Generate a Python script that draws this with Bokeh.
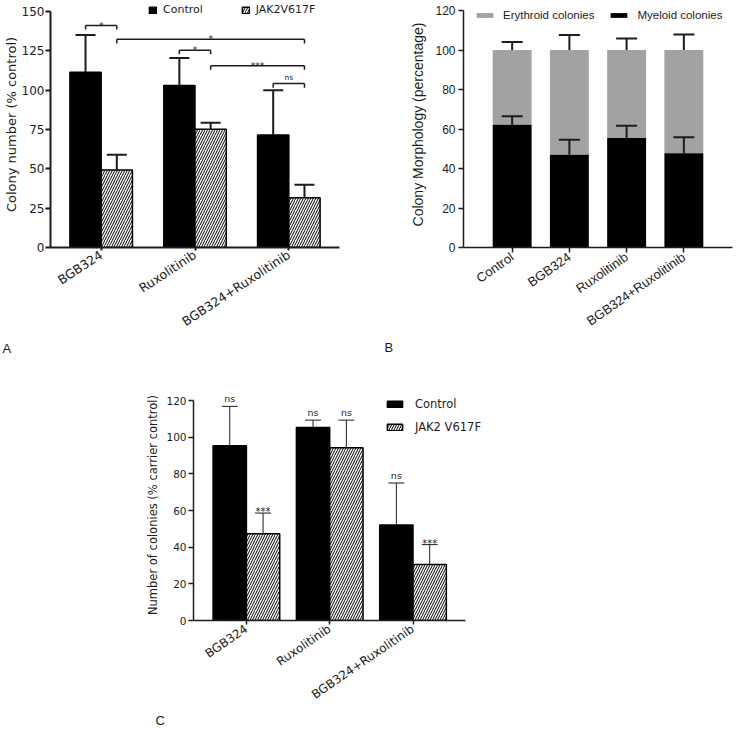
import math
from bokeh.plotting import figure
from bokeh.models import FactorRange, Range1d, Legend, LegendItem, Title, Spacer, FixedTicker
from bokeh.layouts import row, column
from bokeh.core.properties import value
from bokeh.embed import file_html
from bokeh.resources import INLINE

# ---------------- Panel A data ----------------
A_CATS = ["BGB324", "Ruxolitinib", "BGB324+Ruxolitinib"]
A_SERIES = ["Control", "JAK2V617F"]
A_CONTROL = [111.4, 103.0, 71.5]
A_CONTROL_SD = [23.7, 17.4, 28.4]
A_JAK = [49.3, 75.1, 31.7]
A_JAK_SD = [9.6, 4.2, 8.2]
A_YTICKS = [0, 25, 50, 75, 100, 125, 150]
A_SIG_FROM = [("BGB324", "Control"), ("BGB324", "JAK2V617F"), ("Ruxolitinib", "Control"),
              ("Ruxolitinib", "JAK2V617F"), ("BGB324+Ruxolitinib", "Control")]
A_SIG_TO = [("BGB324", "JAK2V617F"), ("BGB324+Ruxolitinib", "JAK2V617F"), ("Ruxolitinib", "JAK2V617F"),
            ("BGB324+Ruxolitinib", "JAK2V617F"), ("BGB324+Ruxolitinib", "JAK2V617F")]
A_SIG_Y = [141.1, 132.3, 125.4, 115.6, 104.2]
A_SIG_TEXT = ["*", "*", "*", "***", "ns"]

# ---------------- Panel B data ----------------
B_CATS = ["Control", "BGB324", "Ruxolitinib", "BGB324+Ruxolitinib"]
B_SERIES = ["Erythroid colonies", "Myeloid colonies"]
B_MYELOID = [62.2, 46.9, 55.5, 47.7]
B_MYELOID_SD = [4.2, 7.7, 6.2, 8.1]
B_ERYTHROID = [37.8, 53.1, 44.5, 52.3]
B_TOTAL_SD = [4.1, 7.6, 5.8, 7.8]
B_YTICKS = [0, 20, 40, 60, 80, 100, 120]

# ---------------- Panel C data ----------------
C_CATS = ["BGB324", "Ruxolitinib", "BGB324+Ruxolitinib"]
C_SERIES = ["Control", "JAK2 V617F"]
C_CONTROL = [95.3, 105.3, 52.1]
C_CONTROL_SD = [21.5, 4.0, 22.9]
C_JAK = [47.3, 94.2, 30.6]
C_JAK_SD = [11.3, 15.1, 10.8]
C_CONTROL_SIG = ["ns", "ns", "ns"]
C_JAK_SIG = ["***", "ns", "***"]
C_YTICKS = [0, 20, 40, 60, 80, 100, 120]

INK = "#1c1c1c"
GRAY = "#a2a2a2"
DV = "DejaVu Sans"
LS = "Liberation Sans"


def mid(cats, a, b):
    p = (cats.index(a[0]) + a[1] + cats.index(b[0]) + b[1]) / 2.0
    i = int(round(p))
    return (cats[i], p - i)


def style(p, font, tick_px, label_px, xlabel_px, angle, axis_w):
    p.outline_line_color = None
    p.xgrid.grid_line_color = None
    p.ygrid.grid_line_color = None
    p.xaxis.major_label_orientation = angle
    for ax in p.axis:
        ax.axis_line_color = INK
        ax.axis_line_width = axis_w
        ax.major_tick_line_color = INK
        ax.major_tick_line_width = axis_w
        ax.minor_tick_line_color = None
        ax.major_tick_in = 0
        ax.major_label_text_font = font
        ax.major_label_text_color = INK
        ax.axis_label_text_font = font
        ax.axis_label_text_font_style = "normal"
        ax.axis_label_text_color = INK
        ax.axis_label_text_font_size = label_px
    p.yaxis.major_label_text_font_size = tick_px
    p.xaxis.major_label_text_font_size = xlabel_px


def errbars(p, xs, vals, sds, width, cap, color=INK):
    tops = [v + s for v, s in zip(vals, sds)]
    p.segment(x0=xs, y0=vals, x1=xs, y1=tops, line_color=color, line_width=width)
    p.scatter(x=xs, y=tops, marker="dash", size=cap, line_color=color, line_width=width)
    return tops


def panel_letter(p, letter, offset):
    p.add_layout(Title(text=letter, align="left", offset=offset, standoff=0,
                       text_font=LS, text_font_size="13px", text_font_style="normal",
                       text_color=INK), "below")


# ================= Panel A =================
OFF_A = {"Control": -1 / 6, "JAK2V617F": 1 / 6}
pA = figure(width=358, height=355,
            x_range=FactorRange(factors=A_CATS, range_padding=0.04, range_padding_units="absolute"),
            y_range=Range1d(0, 156.36), output_backend="svg", toolbar_location=None,
            min_border_left=50, min_border_right=19, min_border_top=1, min_border_bottom=108)
style(pA, DV, "12px", "13px", "12.5px", 0.58, 2)
pA.yaxis.ticker = A_YTICKS
pA.yaxis.bounds = (0, 150)
pA.yaxis.axis_label = "Colony number (% control)"
pA.yaxis.major_tick_out = 5
pA.yaxis.major_label_standoff = 1
pA.yaxis.axis_label_standoff = 0
pA.xaxis.major_tick_out = 3
pA.xaxis.major_label_standoff = 3

xa_c = [(c, OFF_A["Control"]) for c in A_CATS]
xa_j = [(c, OFF_A["JAK2V617F"]) for c in A_CATS]
rA1 = pA.vbar(x=xa_c, top=A_CONTROL, width=1 / 3, fill_color="black", line_color="black", line_width=1.5)
rA2 = pA.vbar(x=xa_j, top=A_JAK, width=1 / 3, fill_color="white", line_color="black", line_width=1.5,
              hatch_pattern="/", hatch_color="black", hatch_scale=5, hatch_weight=1)
errbars(pA, xa_c, A_CONTROL, A_CONTROL_SD, 2, 20)
errbars(pA, xa_j, A_JAK, A_JAK_SD, 2, 20)

bx0 = [(c, OFF_A[s]) for c, s in A_SIG_FROM]
bx1 = [(c, OFF_A[s]) for c, s in A_SIG_TO]
low = [y - 2.6 for y in A_SIG_Y]
pA.segment(x0=bx0, y0=A_SIG_Y, x1=bx1, y1=A_SIG_Y, line_color=INK, line_width=1.5)
pA.segment(x0=bx0, y0=A_SIG_Y, x1=bx0, y1=low, line_color=INK, line_width=1.5)
pA.segment(x0=bx1, y0=A_SIG_Y, x1=bx1, y1=low, line_color=INK, line_width=1.5)
tx = [mid(A_CATS, a, b) for a, b in zip(bx0, bx1)]
st = [i for i, t in enumerate(A_SIG_TEXT) if t != "ns"]
ns = [i for i, t in enumerate(A_SIG_TEXT) if t == "ns"]
pA.text(x=[tx[i] for i in st], y=[A_SIG_Y[i] - 3.2 for i in st], text=[A_SIG_TEXT[i] for i in st],
        text_font=value(DV), text_font_size="9px", text_align="center", text_baseline="bottom",
        text_color=INK)
pA.text(x=[tx[i] for i in ns], y=[A_SIG_Y[i] + 0.8 for i in ns], text=[A_SIG_TEXT[i] for i in ns],
        text_font=value(DV), text_font_size="7.5px", text_align="center", text_baseline="bottom",
        text_color=INK)

legA = Legend(items=[LegendItem(label=A_SERIES[0], renderers=[rA1]),
                     LegendItem(label=A_SERIES[1], renderers=[rA2])],
              orientation="horizontal", location=(98, 231), glyph_width=9, glyph_height=8,
              label_height=10, label_standoff=6, spacing=38, padding=0, margin=0,
              border_line_color=None, background_fill_alpha=0,
              label_text_font=DV, label_text_font_size="11px", label_text_color=INK)
pA.add_layout(legA)
panel_letter(pA, "A", -48)

# ================= Panel B =================
pB = figure(width=378, height=355,
            x_range=FactorRange(factors=B_CATS, range_padding=0.35, range_padding_units="absolute"),
            y_range=Range1d(0, 124.56), output_backend="svg", toolbar_location=None,
            min_border_left=105, min_border_right=4, min_border_top=1, min_border_bottom=108)
style(pB, LS, "12px", "14px", "13px", 0.61, 1.5)
pB.yaxis.ticker = B_YTICKS
pB.yaxis.bounds = (0, 120)
pB.yaxis.axis_label = "Colony Morphology (percentage)"
pB.yaxis.major_tick_out = 5
pB.yaxis.major_label_standoff = 3
pB.yaxis.axis_label_standoff = 6
pB.xaxis.major_tick_out = 5
pB.xaxis.major_label_standoff = 3

b_tops = [m + e for m, e in zip(B_MYELOID, B_ERYTHROID)]
rB1 = pB.vbar(x=B_CATS, bottom=B_MYELOID, top=b_tops, width=0.68, fill_color=GRAY, line_color=None)
rB2 = pB.vbar(x=B_CATS, top=B_MYELOID, width=0.68, fill_color="black", line_color=None)
errbars(pB, B_CATS, b_tops, B_TOTAL_SD, 2, 21)
errbars(pB, B_CATS, B_MYELOID, B_MYELOID_SD, 2, 21)

legB = Legend(items=[LegendItem(label=B_SERIES[0], renderers=[rB1]),
                     LegendItem(label=B_SERIES[1], renderers=[rB2])],
              orientation="horizontal", location=(11, 226), glyph_width=21, glyph_height=6,
              label_height=12, label_standoff=8, spacing=14, padding=0, margin=0,
              border_line_color=None, background_fill_alpha=0,
              label_text_font=LS, label_text_font_size="11.5px", label_text_color=INK)
pB.add_layout(legB)
panel_letter(pB, "B", -79)

# ================= Panel C =================
# numeric x: category i sits at i + 0.5
C_POS = [i + 0.5 for i in range(len(C_CATS))]
OFF_C = {"Control": -0.2, "JAK2 V617F": 0.2}
pC = figure(width=380, height=372,
            x_range=Range1d(-0.135, 3.37), y_range=Range1d(0, 126),
            output_backend="svg", toolbar_location=None,
            min_border_left=63, min_border_right=25, min_border_top=34, min_border_bottom=107)
style(pC, DV, "10.5px", "11.5px", "12px", 0.6, 1.5)
pC.xaxis.ticker = FixedTicker(ticks=C_POS)
pC.xaxis.major_label_overrides = {x: c for x, c in zip(C_POS, C_CATS)}
pC.xaxis.bounds = (-0.135, 3.135)
pC.yaxis.ticker = C_YTICKS
pC.yaxis.bounds = (0, 120)
pC.yaxis.axis_label = "Number of colonies (% carrier control)"
pC.yaxis.major_tick_out = 5
pC.yaxis.major_label_standoff = 2
pC.yaxis.axis_label_standoff = 3
pC.xaxis.major_tick_out = 4
pC.xaxis.major_label_standoff = 3

xc_c = [x + OFF_C["Control"] for x in C_POS]
xc_j = [x + OFF_C["JAK2 V617F"] for x in C_POS]
rC1 = pC.vbar(x=xc_c, top=C_CONTROL, width=0.4, fill_color="black", line_color="black", line_width=1.5)
rC2 = pC.vbar(x=xc_j, top=C_JAK, width=0.4, fill_color="white", line_color="black", line_width=1.5,
              hatch_pattern="/", hatch_color="black", hatch_scale=5, hatch_weight=1)
tc = errbars(pC, xc_c, C_CONTROL, C_CONTROL_SD, 1, 16)
tj = errbars(pC, xc_j, C_JAK, C_JAK_SD, 1, 16)

sx = xc_c + xc_j
sy = tc + tj
stext = C_CONTROL_SIG + C_JAK_SIG
st = [i for i, t in enumerate(stext) if t != "ns"]
ns = [i for i, t in enumerate(stext) if t == "ns"]
pC.text(x=[sx[i] for i in st], y=[sy[i] - 2.3 for i in st], text=[stext[i] for i in st],
        text_font=value(DV), text_font_size="10px", text_align="center", text_baseline="bottom",
        text_color=INK)
pC.text(x=[sx[i] for i in ns], y=[sy[i] + 1.2 for i in ns], text=[stext[i] for i in ns],
        text_font=value(DV), text_font_size="9.5px", text_align="center", text_baseline="bottom",
        text_color=INK)

legC = Legend(items=[LegendItem(label=C_SERIES[0], renderers=[rC1]),
                     LegendItem(label=C_SERIES[1], renderers=[rC2])],
              orientation="vertical", location=(192, 186), glyph_width=19, glyph_height=8,
              label_height=14, label_standoff=11, spacing=9, padding=0, margin=0,
              border_line_color=None, background_fill_alpha=0,
              label_text_font=DV, label_text_font_size="11.5px", label_text_color=INK)
pC.add_layout(legC)
panel_letter(pC, "C", -38)

layout = column(row(pA, pB), row(Spacer(width=130, height=372), pC))

open("out.html", "w").write(file_html(layout, INLINE))
